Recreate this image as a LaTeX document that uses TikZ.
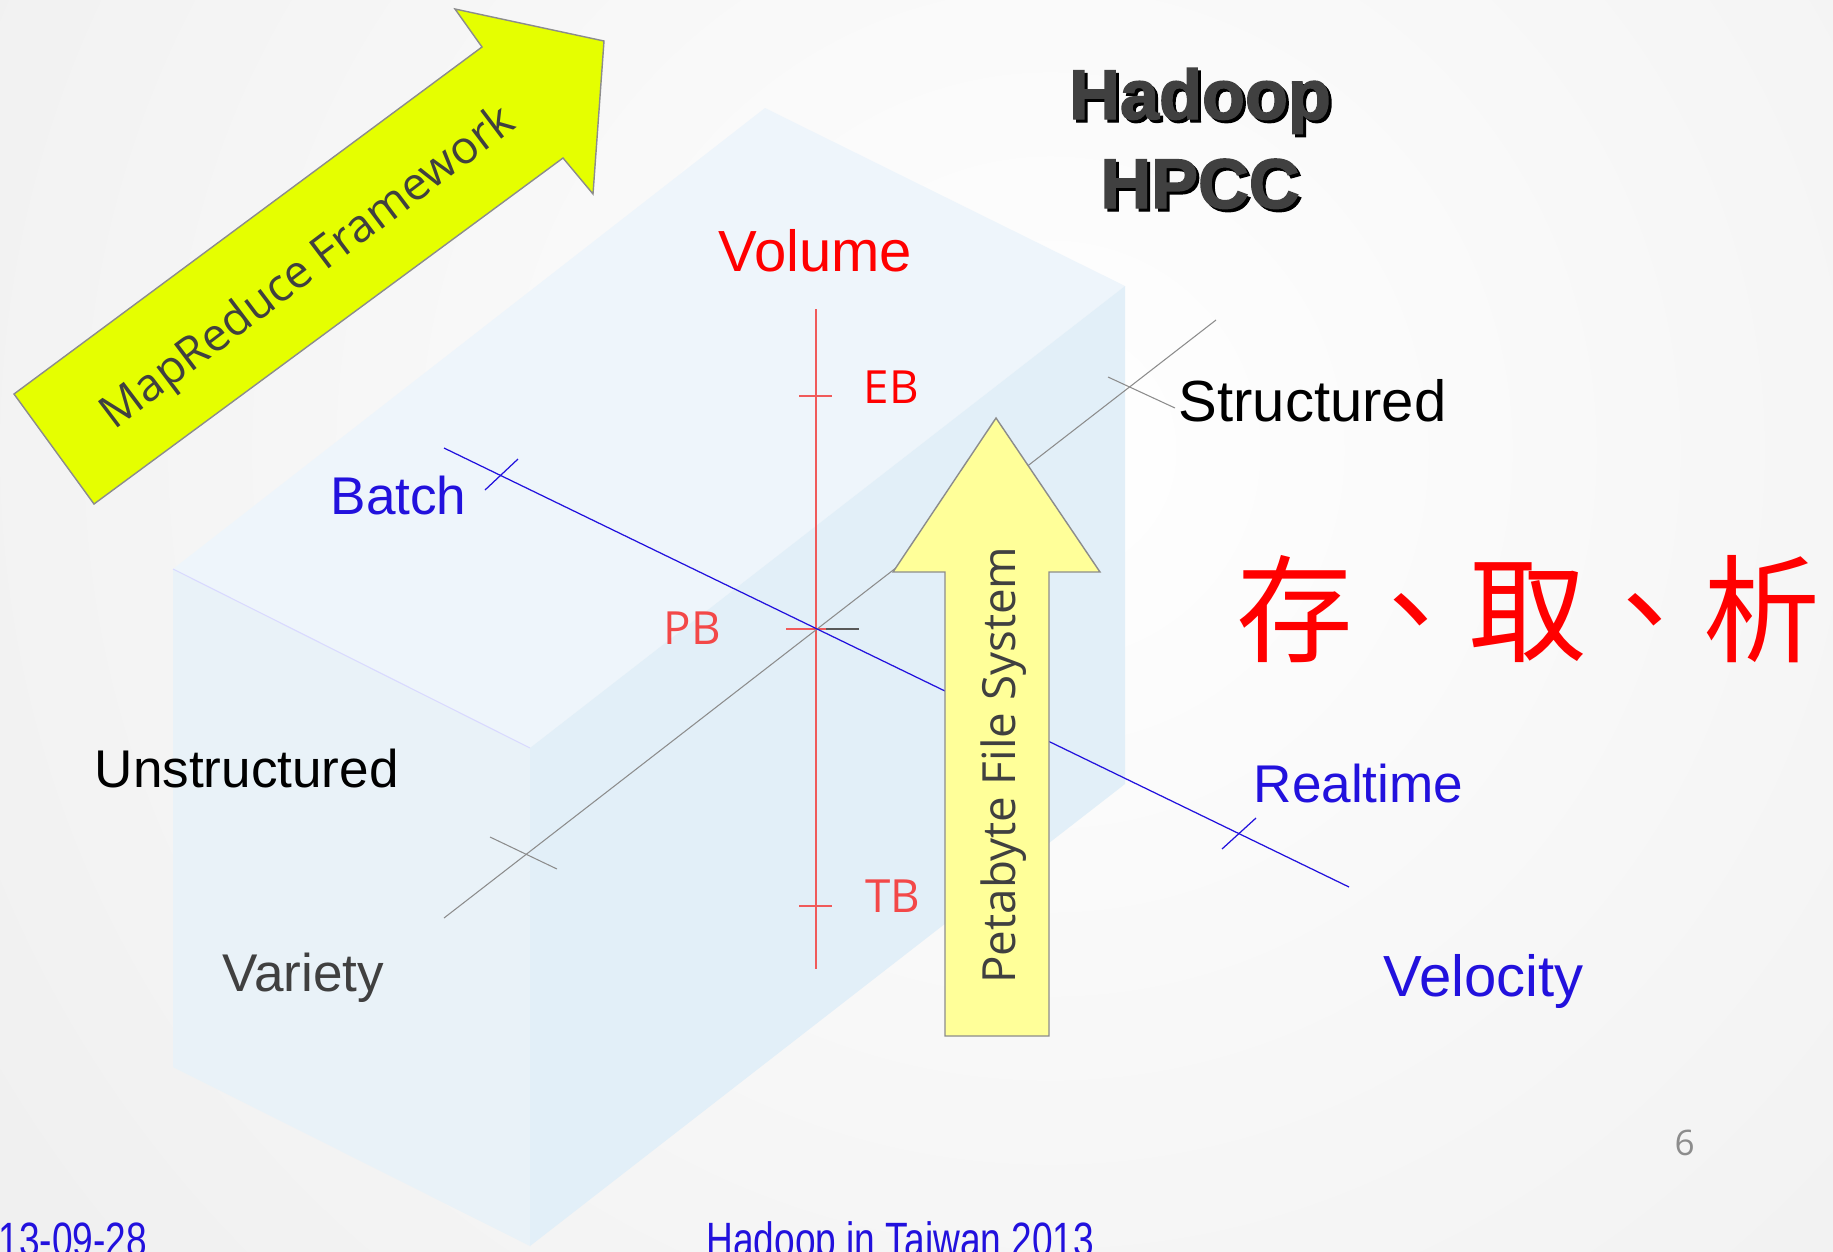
\documentclass[tikz,border=0pt]{standalone}
\usepackage{fontspec}
\setmainfont{Liberation Sans}
\newfontfamily\opensans{Open Sans}
\newfontfamily\heavyfont{Liberation Sans}[BoldFeatures={FakeBold=2}]
\newfontfamily\cjk{Noto Sans CJK TC}
\definecolor{gristexte}{HTML}{404040}
\definecolor{bleutexte}{HTML}{2211DD}
\definecolor{rougetick}{HTML}{F05A5A}
\definecolor{jaunevert}{HTML}{E5FF00}
\definecolor{jaunepale}{HTML}{FFFF99}
\definecolor{facedessus}{HTML}{EEF5FB}
\definecolor{facegauche}{HTML}{E9F2F8}
\definecolor{facedroite}{HTML}{E2EFF8}

\begin{document}
\begin{tikzpicture}[x=0.01cm,y=-0.01cm]
\tikzset{etiquette/.style={inner sep=0pt, anchor=base west, font=\fontsize{16.5}{18}\selectfont}}
\tikzset{moyenneetiquette/.style={etiquette, font=\fontsize{15.1}{17}\selectfont}}
\tikzset{petiteetiquette/.style={inner sep=0pt, anchor=base west, font=\opensans\fontsize{13}{15}\selectfont}}
\tikzset{fleche/.style={draw=black!45, line width=0.4pt}}
\tikzset{titre/.style={inner sep=0pt, anchor=base, font=\heavyfont\bfseries\fontsize{20}{22}\selectfont}}
\tikzset{piedpage/.style={inner sep=0pt, anchor=base west, xscale=0.77, text=bleutexte, font=\fontsize{13.7}{15}\selectfont}}
\useasboundingbox (0,0) rectangle (1833,1251);
\clip (0,0) rectangle (1833,1251);
\shade[inner color=white, outer color=black!7] (1050,450) circle (1500);
% cube
\coordinate (T) at (765,108);
\coordinate (R) at (1125,286);
\coordinate (L) at (173,569);
\coordinate (F) at (530,748);
\coordinate (BL) at (173,1067);
\coordinate (BF) at (530,1246);
\coordinate (RB) at (1125,784);
\fill[facedessus] (L) -- (T) -- (R) -- (F) -- cycle;
\fill[facegauche] (L) -- (F) -- (BF) -- (BL) -- cycle;
\fill[facedroite] (F) -- (R) -- (RB) -- (BF) -- cycle;
\draw[blue!15, line width=0.3pt] (L) -- (F);
% axes
\coordinate (O) at (816,629);
\coordinate (vhaut) at (816,309);
\coordinate (vbas) at (816,969);
\coordinate (gdebut) at (444,918);
\coordinate (gfin) at (1216,320);
\coordinate (bdebut) at (444,448);
\coordinate (bfin) at (1349,887);
\draw[rougetick, line width=0.45pt] (vhaut) -- (vbas);
\coordinate (ebg) at (799,396);
\coordinate (ebd) at (832,396);
\coordinate (tbg) at (799,906);
\coordinate (tbd) at (832,906);
\coordinate (pbg) at (786,629);
\coordinate (pbd) at (828,629);
\coordinate (og) at (826,629);
\coordinate (od) at (859,629);
\draw[rougetick, line width=0.45pt] (ebg) -- (ebd);
\draw[rougetick, line width=0.45pt] (tbg) -- (tbd);
\draw[rougetick, line width=0.45pt] (pbg) -- (pbd);
\draw[black!65, line width=0.35pt] (og) -- (od);
\draw[black!45, line width=0.3pt] (gdebut) -- (gfin);
\coordinate (struct1) at (1108,377);
\coordinate (struct2) at (1175,408);
\coordinate (unstr1) at (490,837);
\coordinate (unstr2) at (557,869);
\draw[black!45, line width=0.3pt] (struct1) -- (struct2);
\draw[black!45, line width=0.3pt] (unstr1) -- (unstr2);
\draw[bleutexte, line width=0.35pt] (bdebut) -- (bfin);
\coordinate (batch1) at (485,490);
\coordinate (batch2) at (518,459);
\coordinate (real1) at (1222,849);
\coordinate (real2) at (1256,818);
\draw[bleutexte, line width=0.35pt] (batch1) -- (batch2);
\draw[bleutexte, line width=0.35pt] (real1) -- (real2);
% arrows
\draw[fleche, fill=jaunevert] (94,504) -- (14,394) -- (482,47) -- (455,9) -- (604,41) -- (593,194) -- (563,158) -- cycle;
\node[text=gristexte, font=\opensans\fontsize{13}{15}\selectfont, rotate=37] (mapreduce) at (309,269) {MapReduce Framework};
\draw[fleche, fill=jaunepale] (996,418) -- (1100,572) -- (1049,572) -- (1049,1036) -- (945,1036) -- (945,572) -- (893,572) -- cycle;
\node[text=gristexte, font=\opensans\fontsize{13}{15}\selectfont, rotate=90, inner sep=0pt, anchor=base] (pfs) at (1015,765) {Petabyte File System};
% labels
\node[etiquette, text=red] (volume) at (718,271) {Volume};
\node[petiteetiquette, text=red] (eb) at (863,403) {EB};
\node[petiteetiquette, text=rougetick!80!red] (pb) at (663,644) {PB};
\node[petiteetiquette, text=rougetick!80!red] (tb) at (865,912) {TB};
\node[moyenneetiquette, text=bleutexte] (batch) at (330,514) {Batch};
\node[etiquette, text=black] (structured) at (1178,421) {Structured};
\node[moyenneetiquette, text=black] (unstructured) at (94,787) {Unstructured};
\node[moyenneetiquette, text=bleutexte] (realtime) at (1253,802) {Realtime};
\node[moyenneetiquette, text=gristexte] (variety) at (222,991) {Variety};
\node[etiquette, text=bleutexte] (velocity) at (1383,996) {Velocity};
\node[titre, text=black] (hadoopombre) at (1203,122) {Hadoop};
\node[titre, text=gristexte] (hadoop) at (1200,119) {Hadoop};
\node[titre, text=black] (hpccombre) at (1203,211) {HPCC};
\node[titre, text=gristexte] (hpcc) at (1200,208) {HPCC};
\node[text=red, inner sep=0pt, font=\cjk\fontsize{33.2}{35}\selectfont] (cunqu) at (1528,609) {存、取、析};
% footer
\node[piedpage] (date) at (-2,1256) {13-09-28};
\node[piedpage] (conf) at (706,1256) {Hadoop in Taiwan 2013};
\node[inner sep=0pt, anchor=base west, text=black!45, font=\opensans\fontsize{10}{12}\selectfont] (page) at (1674,1155) {6};
\end{tikzpicture}
\end{document}
